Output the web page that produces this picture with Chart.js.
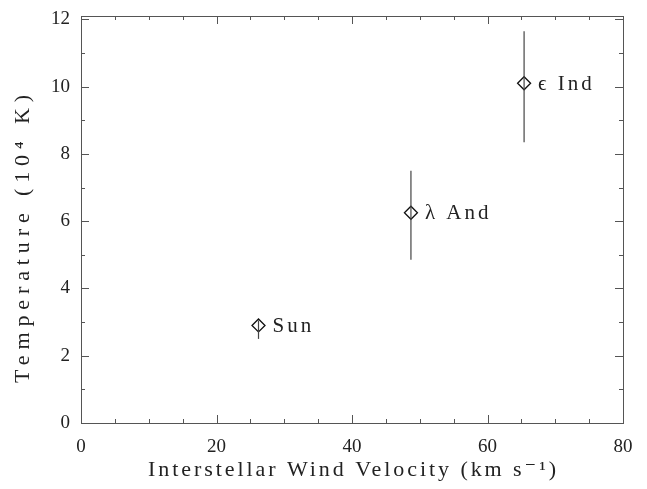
<!DOCTYPE html>
<html>
<head>
<meta charset="utf-8">
<script src="https://cdn.jsdelivr.net/npm/chart.js@4/dist/chart.umd.min.js"></script>
<style>
html,body{margin:0;padding:0;background:#fff;}
#wrap{width:647px;height:489px;position:relative;}
</style>
</head>
<body>
<div id="wrap"><canvas id="c" width="647" height="489"></canvas></div>
<script>
// Data
const starNames = ['Sun', 'λ And', 'ϵ Ind'];
const velocity = [26.2, 48.7, 65.4];          // km s^-1
const temperature = [2.9, 6.25, 10.1];        // 10^4 K
const tempLow = [2.5, 4.85, 8.35];
const tempHigh = [3.05, 7.5, 11.65];
const xTicks = [0, 20, 40, 60, 80];
const yTicks = [0, 2, 4, 6, 8, 10, 12];
const xTitle = 'Interstellar Wind Velocity (km s⁻¹)';
const yTitle = 'Temperature (10⁴ K)';

const FONT = '"Liberation Serif", "DejaVu Serif", serif';
const INK = '#222';

const points = velocity.map((v, i) => ({x: v, y: temperature[i]}));

function spacedText(ctx, text, cx, cy, target) {
  ctx.letterSpacing = '0px';
  const n = [...text].length;
  const w = ctx.measureText(text).width;
  const sp = Math.max(0, (target - w) / (n - 1));
  ctx.letterSpacing = sp + 'px';
  const total = w + sp * (n - 1);
  ctx.textAlign = 'left';
  ctx.fillText(text, cx - total / 2, cy);
  ctx.letterSpacing = '0px';
}

const framePlugin = {
  id: 'frame',
  afterDatasetsDraw(chart) {
    const {ctx, chartArea: a, scales: {x, y}} = chart;
    ctx.save();
    // error bars
    ctx.strokeStyle = '#444';
    ctx.lineWidth = 1.2;
    velocity.forEach((v, i) => {
      const px = x.getPixelForValue(v);
      ctx.beginPath();
      ctx.moveTo(px, y.getPixelForValue(tempHigh[i]));
      ctx.lineTo(px, y.getPixelForValue(tempLow[i]));
      ctx.stroke();
    });
    // frame
    ctx.strokeStyle = '#555';
    ctx.lineWidth = 1;
    ctx.strokeRect(Math.round(a.left) + 0.5, Math.round(a.top) + 0.5, Math.round(a.right - a.left), Math.round(a.bottom - a.top));
    // inward ticks
    ctx.beginPath();
    for (let v = 0; v <= 80; v += 5) {
      const px = Math.round(x.getPixelForValue(v)) + 0.5;
      const len = v % 20 === 0 ? 8 : 4;
      ctx.moveTo(px, a.bottom); ctx.lineTo(px, a.bottom - len);
      ctx.moveTo(px, a.top); ctx.lineTo(px, a.top + len);
    }
    for (let v = 0; v <= 12; v += 1) {
      const py = Math.round(y.getPixelForValue(v)) + 0.5;
      const len = v % 2 === 0 ? 8 : 4;
      ctx.moveTo(a.left, py); ctx.lineTo(a.left + len, py);
      ctx.moveTo(a.right, py); ctx.lineTo(a.right - len, py);
    }
    ctx.stroke();
    // star labels
    ctx.fillStyle = INK;
    ctx.font = '21px ' + FONT;
    ctx.textBaseline = 'middle';
    ctx.textAlign = 'left';
    ctx.letterSpacing = '3px';
    velocity.forEach((v, i) => {
      ctx.fillText(starNames[i], x.getPixelForValue(v) + 14, y.getPixelForValue(temperature[i]) + 1);
    });
    ctx.letterSpacing = '0px';
    // axis titles
    ctx.font = '22px ' + FONT;
    spacedText(ctx, xTitle, (a.left + a.right) / 2, 470, 408);
    ctx.save();
    ctx.translate(23, 239);
    ctx.rotate(-Math.PI / 2);
    spacedText(ctx, yTitle, 0, 0, 288);
    ctx.restore();
    ctx.restore();
  }
};

new Chart(document.getElementById('c'), {
  type: 'scatter',
  data: {
    datasets: [{
      data: points,
      pointStyle: 'rectRot',
      pointRadius: 6.5,
      pointBackgroundColor: '#fff',
      pointBorderColor: '#111',
      pointBorderWidth: 1.3,
      showLine: false
    }]
  },
  options: {
    responsive: false,
    animation: false,
    layout: {padding: {top: 16, right: 24, left: 0, bottom: 0}},
    plugins: {legend: {display: false}, tooltip: {enabled: false}},
    scales: {
      x: {
        type: 'linear', min: 0, max: 80,
        afterBuildTicks(s) { s.ticks = xTicks.map(v => ({value: v})); },
        afterFit(s) { s.height = 66; s.paddingLeft = 0; s.paddingRight = 0; },
        grid: {display: false, drawTicks: false},
        border: {display: false},
        ticks: {color: INK, font: {family: FONT, size: 19}, padding: 13, maxRotation: 0},
        title: {display: false}
      },
      y: {
        type: 'linear', min: 0, max: 12.1,
        afterBuildTicks(s) { s.ticks = yTicks.map(v => ({value: v})); },
        afterFit(s) { s.width = 81; s.paddingTop = 0; s.paddingBottom = 0; },
        grid: {display: false, drawTicks: false},
        border: {display: false},
        ticks: {color: INK, font: {family: FONT, size: 19}, padding: 11},
        title: {display: false}
      }
    }
  },
  plugins: [framePlugin]
});
</script>
</body>
</html>
